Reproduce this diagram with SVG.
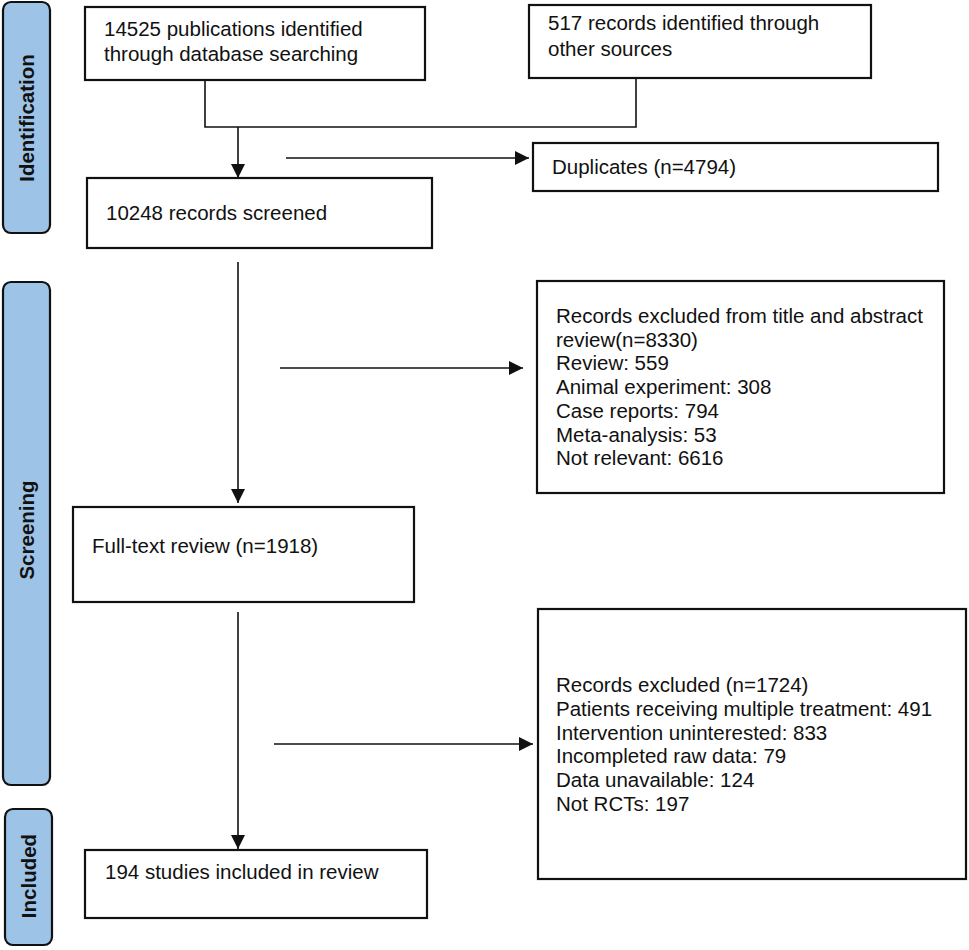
<svg xmlns="http://www.w3.org/2000/svg" width="969" height="950" viewBox="0 0 969 950">
<style>
.box{fill:#fff;stroke:#111;stroke-width:2.2}
.side{fill:#9dc3e6;stroke:#111;stroke-width:2.2}
.t{font-family:"Liberation Sans",Arial,sans-serif;font-size:20.5px;fill:#111}
.st{font-family:"Liberation Sans",Arial,sans-serif;font-size:20.5px;font-weight:bold;fill:#111;text-anchor:middle}
.c{fill:none;stroke:#111;stroke-width:1.6}
</style>
<defs>
<marker id="ah" markerUnits="userSpaceOnUse" markerWidth="16" markerHeight="16" refX="14" refY="7" orient="auto">
<path d="M0,0 L14,7 L0,14 Z" fill="#111"/>
</marker>
</defs>
<rect width="969" height="950" fill="#fff"/>
<g id="stage-identification">
<rect class="side" x="3" y="2" width="47" height="231" rx="8"/>
<text class="st" transform="translate(34,118) rotate(-90)">Identification</text>
</g>
<g id="stage-screening">
<rect class="side" x="3" y="282" width="47" height="503" rx="8"/>
<text class="st" transform="translate(34,530) rotate(-90)">Screening</text>
</g>
<g id="stage-included">
<rect class="side" x="5" y="809" width="47" height="136" rx="8"/>
<text class="st" transform="translate(36,876) rotate(-90)">Included</text>
</g>
<g id="connectors">
<polyline class="c" points="205,80 205,127 636,127 636,78"/>
<line class="c" x1="238" y1="127" x2="238" y2="178" marker-end="url(#ah)"/>
<line class="c" x1="286" y1="158" x2="529" y2="158" marker-end="url(#ah)"/>
<line class="c" x1="238" y1="262" x2="238" y2="503" marker-end="url(#ah)"/>
<line class="c" x1="280" y1="368" x2="523" y2="368" marker-end="url(#ah)"/>
<line class="c" x1="238" y1="612" x2="238" y2="849" marker-end="url(#ah)"/>
<line class="c" x1="274" y1="744" x2="533" y2="744" marker-end="url(#ah)"/>
</g>
<g id="n-database">
<rect class="box" x="85" y="7" width="340" height="73"/>
<text class="t" x="104" y="36">14525 publications identified</text>
<text class="t" x="104" y="61">through database searching</text>
</g>
<g id="n-other">
<rect class="box" x="529" y="5" width="342" height="73"/>
<text class="t" x="548" y="30">517 records identified through</text>
<text class="t" x="548" y="56">other sources</text>
</g>
<g id="n-screened">
<rect class="box" x="87" y="178" width="345" height="70"/>
<text class="t" x="106" y="220">10248 records screened</text>
</g>
<g id="n-duplicates">
<rect class="box" x="533" y="143" width="405" height="48"/>
<text class="t" x="552" y="174">Duplicates (n=4794)</text>
</g>
<g id="n-excluded1">
<rect class="box" x="537" y="281" width="407" height="212"/>
<text class="t" x="556" y="323">Records excluded from title and abstract</text>
<text class="t" x="556" y="346.7">review(n=8330)</text>
<text class="t" x="556" y="370.4">Review: 559</text>
<text class="t" x="556" y="394.1">Animal experiment: 308</text>
<text class="t" x="556" y="417.8">Case reports: 794</text>
<text class="t" x="556" y="441.5">Meta-analysis: 53</text>
<text class="t" x="556" y="465.2">Not relevant: 6616</text>
</g>
<g id="n-fulltext">
<rect class="box" x="73" y="507" width="341" height="95"/>
<text class="t" x="92" y="553">Full-text review (n=1918)</text>
</g>
<g id="n-excluded2">
<rect class="box" x="538" y="609" width="428" height="270"/>
<text class="t" x="556" y="692">Records excluded (n=1724)</text>
<text class="t" x="556" y="715.8">Patients receiving multiple treatment: 491</text>
<text class="t" x="556" y="739.6">Intervention uninterested: 833</text>
<text class="t" x="556" y="763.4">Incompleted raw data: 79</text>
<text class="t" x="556" y="787.2">Data unavailable: 124</text>
<text class="t" x="556" y="811">Not RCTs: 197</text>
</g>
<g id="n-included">
<rect class="box" x="85" y="850" width="342" height="68"/>
<text class="t" x="105" y="879">194 studies included in review</text>
</g>
</svg>
